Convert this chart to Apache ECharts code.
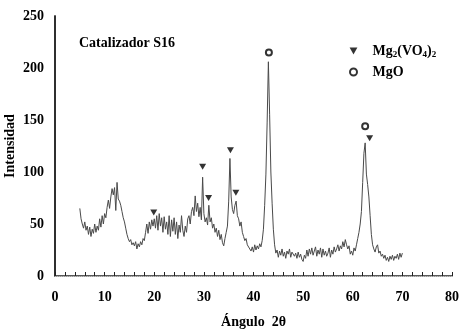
<!DOCTYPE html>
<html>
<head>
<meta charset="utf-8">
<script src="https://cdn.jsdelivr.net/npm/echarts@6/dist/echarts.min.js"></script>
<style>
  html, body { margin: 0; padding: 0; background: #fff; }
  #chart { width: 463px; height: 334px; }
</style>
</head>
<body>
<div id="chart"></div>
<script>
// XRD pattern, 2-theta in degrees
const angle = [
  5, 5.25, 5.5, 5.75, 6, 6.25, 6.5, 6.75, 7, 7.25, 7.5, 7.75,
  8, 8.25, 8.5, 8.75, 9, 9.25, 9.5, 9.75, 10, 10.25, 10.5, 10.75,
  11, 11.25, 11.5, 11.75, 12, 12.25, 12.5, 12.75, 13, 13.25, 13.5, 13.75,
  14, 14.25, 14.5, 14.75, 15, 15.25, 15.5, 15.75, 16, 16.25, 16.5, 16.75,
  17, 17.25, 17.5, 17.75, 18, 18.25, 18.5, 18.75, 19, 19.25, 19.5, 19.75,
  20, 20.25, 20.5, 20.75, 21, 21.25, 21.5, 21.75, 22, 22.25, 22.5, 22.75,
  23, 23.25, 23.5, 23.75, 24, 24.25, 24.5, 24.75, 25, 25.25, 25.5, 25.75,
  26, 26.25, 26.5, 26.75, 27, 27.25, 27.5, 27.75, 28, 28.25, 28.5, 28.75,
  29, 29.25, 29.5, 29.75, 30, 30.25, 30.5, 30.75, 31, 31.25, 31.5, 31.75,
  32, 32.25, 32.5, 32.75, 33, 33.25, 33.5, 33.75, 34, 34.25, 34.5, 34.75,
  35, 35.25, 35.5, 35.75, 36, 36.25, 36.5, 36.75, 37, 37.25, 37.5, 37.75,
  38, 38.25, 38.5, 38.75, 39, 39.25, 39.5, 39.75, 40, 40.25, 40.5, 40.75,
  41, 41.25, 41.5, 41.75, 42, 42.25, 42.5, 42.75, 43, 43.25, 43.5, 43.75,
  44, 44.25, 44.5, 44.75, 45, 45.25, 45.5, 45.75, 46, 46.25, 46.5, 46.75,
  47, 47.25, 47.5, 47.75, 48, 48.25, 48.5, 48.75, 49, 49.25, 49.5, 49.75,
  50, 50.25, 50.5, 50.75, 51, 51.25, 51.5, 51.75, 52, 52.25, 52.5, 52.75,
  53, 53.25, 53.5, 53.75, 54, 54.25, 54.5, 54.75, 55, 55.25, 55.5, 55.75,
  56, 56.25, 56.5, 56.75, 57, 57.25, 57.5, 57.75, 58, 58.25, 58.5, 58.75,
  59, 59.25, 59.5, 59.75, 60, 60.25, 60.5, 60.75, 61, 61.25, 61.5, 61.75,
  62, 62.25, 62.5, 62.75, 63, 63.25, 63.5, 63.75, 64, 64.25, 64.5, 64.75,
  65, 65.25, 65.5, 65.75, 66, 66.25, 66.5, 66.75, 67, 67.25, 67.5, 67.75,
  68, 68.25, 68.5, 68.75, 69, 69.25, 69.5, 69.75, 70
];

const intensity = [
  65, 55, 50, 46, 52, 44, 48, 40, 47, 38, 45, 41,
  50, 42, 48, 44, 55, 47, 58, 50, 60, 56, 66, 73,
  65, 76, 84, 78, 85, 63, 90, 74, 72, 68, 62, 56,
  52, 46, 40, 36, 33, 35, 30, 32, 29, 33, 26, 31,
  28, 33, 30, 36, 34, 42, 50, 41, 52, 45, 54, 48,
  55, 46, 58, 44, 60, 48, 56, 42, 57, 45, 52, 40,
  58, 38, 54, 43, 56, 40, 52, 36, 49, 42, 58, 44,
  38, 48, 42, 55, 58, 50, 62, 66, 58, 77, 62, 70,
  57, 66, 54, 95, 60, 52, 56, 49, 68, 52, 56, 46,
  50, 42, 46, 38, 44, 35, 40, 32, 29, 36, 42, 48,
  72, 113, 76, 64, 60, 68, 72, 58, 55, 48, 52, 42,
  38, 34, 36, 30, 30, 26, 24, 28, 23, 30, 25, 29,
  26, 31, 28, 34, 45, 68, 98, 148, 206, 155, 100, 70,
  45, 30, 22, 25, 18, 24, 20, 26, 19, 23, 17, 24,
  21, 26, 18, 23, 24, 19, 22, 17, 23, 18, 21, 16,
  14, 20, 17, 25, 19, 26, 21, 27, 20, 24, 28, 19,
  25, 21, 27, 18, 26, 20, 24, 19, 22, 27, 18, 25,
  21, 28, 23, 26, 30, 24, 29, 26, 33, 28, 35, 30,
  26, 29, 21, 24, 20, 27, 24, 30, 36, 42, 50, 62,
  90, 118, 128, 98, 88, 76, 58, 40, 30, 26, 23, 28,
  30, 22, 24, 19, 21, 17, 20, 15, 18, 14, 19, 16,
  20, 15, 19, 17, 21, 16, 22, 18, 22
];

// peak markers
const vanadateAngle = [19.9, 29.75, 30.95, 35.35, 36.45, 63.4];
const vanadateY = [61, 105, 75, 121, 80, 132.5];
const mgoAngle = [43.1, 62.5];
const mgoY = [215, 144];

const xTicks = [0, 80, 10];
const yTicks = [0, 250, 50];

const FONT = "Liberation Serif";
const chart = echarts.init(document.getElementById("chart"), null, { renderer: "canvas" });

const pattern = angle.map((a, i) => [a, intensity[i]]);
const vanadate = vanadateAngle.map((a, i) => [a, vanadateY[i]]);
const mgo = mgoAngle.map((a, i) => [a, mgoY[i]]);

const labelStyle = { fontFamily: FONT, fontWeight: "bold", fontSize: 14, color: "#000" };

chart.setOption({
  animation: false,
  backgroundColor: "#fff",
  title: {
    text: "Catalizador S16",
    left: 74,
    top: 31,
    textStyle: { fontFamily: FONT, fontWeight: "bold", fontSize: 14, color: "#000" },
  },
  legend: {
    orient: "vertical",
    left: 344,
    top: 39,
    itemWidth: 8,
    itemHeight: 7,
    itemGap: 6,
    data: [
      { name: "Mg2(VO4)2", icon: "path://M0,0L10,0L5,9Z" },
      { name: "MgO", icon: "emptyCircle", itemStyle: { borderWidth: 1.6 } },
    ],
    formatter: (name) =>
      name === "MgO" ? "{n|MgO}" : "{n|Mg}{s|2}{n|(VO}{s|4}{n|)}{s|2}",
    textStyle: {
      padding: [0, 0, 0, 10],
      rich: {
        n: { fontFamily: FONT, fontWeight: "bold", fontSize: 14, color: "#000", lineHeight: 16 },
        s: { fontFamily: FONT, fontWeight: "bold", fontSize: 9, color: "#000", verticalAlign: "bottom", lineHeight: 12 },
      },
    },
  },
  grid: { left: 55, right: 11, top: 16, bottom: 58, outerBoundsMode: "none" },
  xAxis: [
    {
      type: "value",
      min: xTicks[0],
      max: xTicks[1],
      interval: xTicks[2],
      name: "Ángulo  2θ",
      nameLocation: "middle",
      nameGap: 39,
      nameMoveOverlap: false,
      nameTextStyle: labelStyle,
      axisLine: { lineStyle: { color: "#222", width: 1.5 } },
      axisTick: { inside: true, length: 4, lineStyle: { color: "#222" } },
      minorTick: { show: true, splitNumber: 5, length: 4, lineStyle: { color: "#222" } },
      axisLabel: { ...labelStyle, margin: 14 },
      splitLine: { show: false },
    },
    {
      type: "value",
      position: "top",
      min: xTicks[0],
      max: xTicks[1],
      axisLine: { lineStyle: { color: "#bbb", width: 1, type: "dotted" } },
      axisTick: { show: false },
      axisLabel: { show: false },
      splitLine: { show: false },
    },
  ],
  yAxis: [
    {
      type: "value",
      min: yTicks[0],
      max: yTicks[1],
      interval: yTicks[2],
      name: "Intensidad",
      nameLocation: "middle",
      nameGap: 38,
      nameMoveOverlap: false,
      nameTextStyle: labelStyle,
      axisLine: { show: true, lineStyle: { color: "#222", width: 1.5 } },
      axisTick: { show: false },
      axisLabel: { ...labelStyle, margin: 11 },
      splitLine: { show: false },
    },
    {
      type: "value",
      position: "right",
      min: yTicks[0],
      max: yTicks[1],
      axisLine: { show: true, lineStyle: { color: "#222", width: 1.5 } },
      axisTick: { show: false },
      axisLabel: { show: false },
      splitLine: { show: false },
    },
  ],
  series: [
    {
      name: "pattern",
      type: "line",
      data: pattern,
      symbol: "none",
      lineStyle: { color: "#4a4a4a", width: 1 },
      z: 2,
    },
    {
      name: "Mg2(VO4)2",
      type: "scatter",
      data: vanadate,
      symbol: "triangle",
      symbolRotate: 180,
      symbolSize: [7, 6],
      itemStyle: { color: "#000" },
      z: 3,
    },
    {
      name: "MgO",
      type: "scatter",
      data: mgo,
      symbol: "emptyCircle",
      symbolSize: 6,
      itemStyle: { color: "#000", borderColor: "#000", borderWidth: 1.6 },
      z: 3,
    },
  ],
});
</script>
</body>
</html>
